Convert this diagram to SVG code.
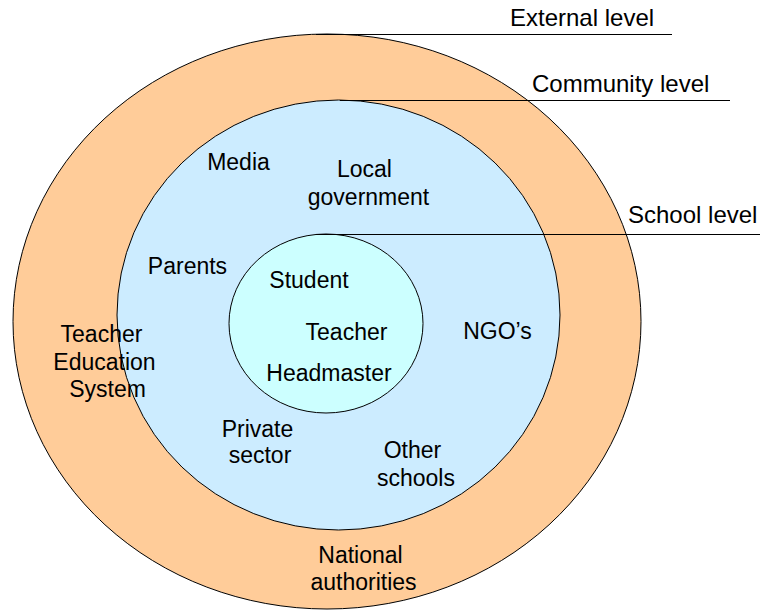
<svg xmlns="http://www.w3.org/2000/svg" width="760" height="611" viewBox="0 0 760 611">
<style>
text{font-family:"Liberation Sans",Arial,sans-serif;font-size:23px;fill:#000}
.m{text-anchor:middle}
.e{stroke:#000;stroke-width:1}
.ln{stroke:#000;stroke-width:1.2;fill:none}
.t{font-size:24px}
</style>
<rect width="760" height="611" fill="#fff"/>
<g id="external">
<ellipse class="e" cx="327" cy="321.5" rx="314" ry="287.5" fill="#FFCC99"/>
</g>
<g id="community">
<ellipse class="e" cx="338.5" cy="315" rx="221.5" ry="215" fill="#CCECFF"/>
</g>
<g id="school">
<ellipse class="e" cx="326" cy="323.5" rx="97" ry="89.5" fill="#CCFFFF"/>
</g>
<g id="connectors">
<line class="ln" x1="316" y1="34.5" x2="672" y2="34.5"/>
<line class="ln" x1="340" y1="100.5" x2="730" y2="100.5"/>
<line class="ln" x1="316" y1="234.5" x2="760" y2="234.5"/>
</g>
<g id="labels">
<text class="t" x="510" y="26">External level</text>
<text class="t" x="532" y="92">Community level</text>
<text class="t" x="628" y="223">School level</text>
</g>
<g id="media"><text class="m" x="238.5" y="170">Media</text></g>
<g id="localgov"><text class="m" x="364.5" y="177">Local</text><text class="m" x="368.5" y="205">government</text></g>
<g id="parents"><text class="m" x="187.5" y="274">Parents</text></g>
<g id="student"><text class="m" x="309" y="288">Student</text></g>
<g id="teacher"><text class="m" x="346.5" y="340">Teacher</text></g>
<g id="headmaster"><text class="m" x="329" y="381">Headmaster</text></g>
<g id="ngos"><text class="m" x="497.5" y="339">NGO’s</text></g>
<g id="tes"><text class="m" x="101.5" y="342">Teacher</text><text class="m" x="104.5" y="370">Education</text><text class="m" x="107.5" y="397">System</text></g>
<g id="private"><text class="m" x="257.5" y="437">Private</text><text class="m" x="260" y="463">sector</text></g>
<g id="otherschools"><text class="m" x="412.5" y="458">Other</text><text class="m" x="416" y="486">schools</text></g>
<g id="national"><text class="m" x="360.5" y="563">National</text><text class="m" x="363.5" y="590">authorities</text></g>
</svg>
